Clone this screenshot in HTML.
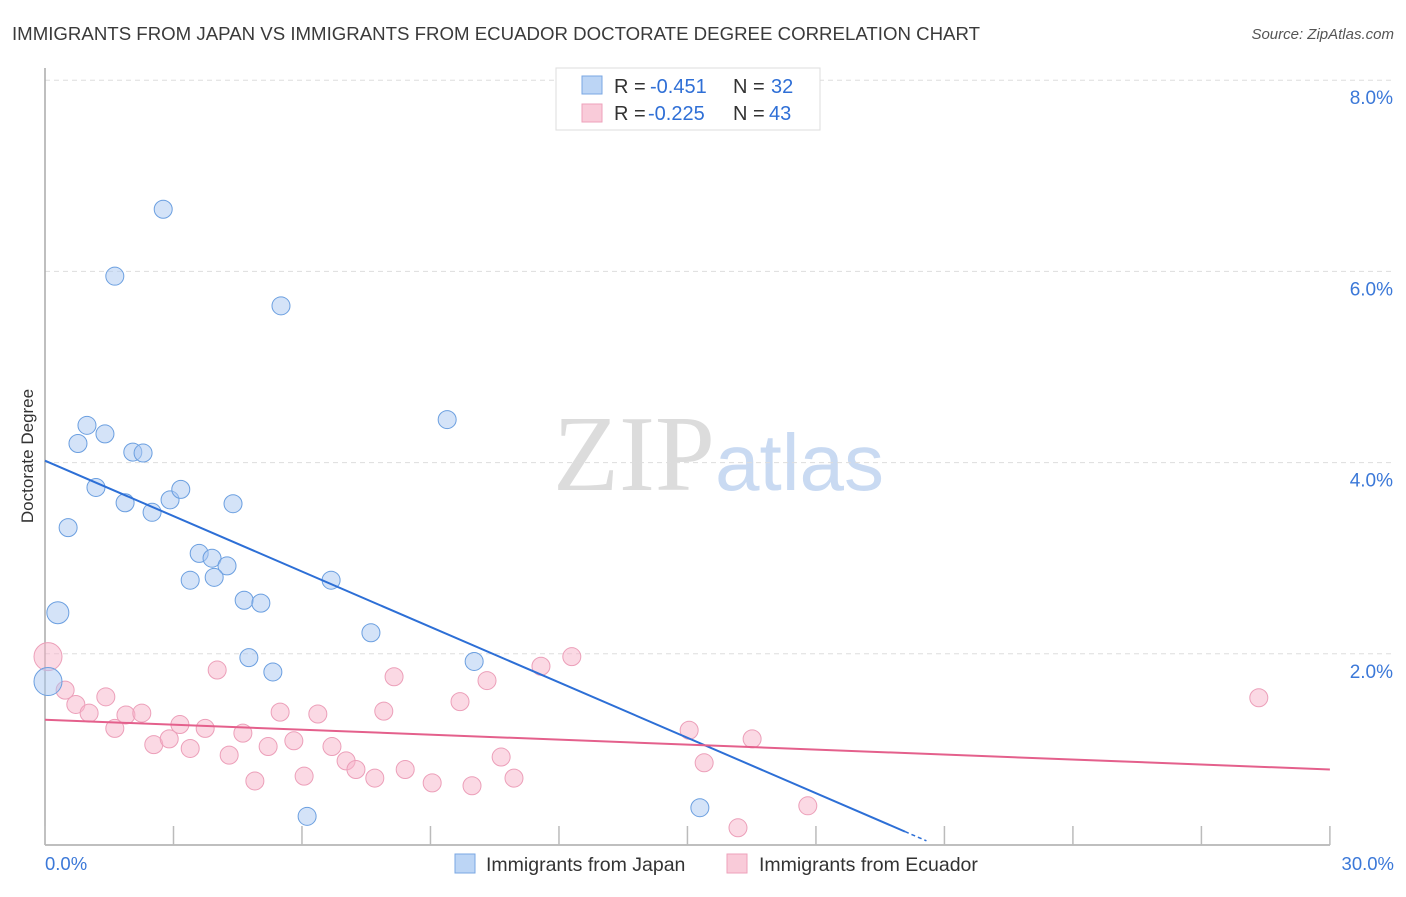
<!DOCTYPE html>
<html><head><meta charset="utf-8"><style>
body{margin:0;background:#fff;font-family:"Liberation Sans",sans-serif}
</style></head><body>
<svg id="chart" width="1406" height="892" xmlns="http://www.w3.org/2000/svg" font-family="Liberation Sans, sans-serif">
<text x="12" y="40" font-size="18.6" fill="#3a3a3a" textLength="968" lengthAdjust="spacingAndGlyphs">IMMIGRANTS FROM JAPAN VS IMMIGRANTS FROM ECUADOR DOCTORATE DEGREE CORRELATION CHART</text>
<text x="1394" y="39" font-size="15" fill="#555" font-style="italic" text-anchor="end">Source: ZipAtlas.com</text>
<text x="553" y="490" font-size="108" fill="#dcdcdc" font-family="Liberation Serif, serif">ZIP<tspan fill="#c9daf2" font-family="Liberation Sans, sans-serif" font-size="80">atlas</tspan></text>
<text transform="translate(33,456) rotate(-90)" font-size="17" fill="#333" text-anchor="middle">Doctorate Degree</text>
<g id="grid"></g><g id="pts"></g><g id="trend"></g>
<g>
<rect x="556" y="68" width="264" height="62" fill="#fff" stroke="#ddd"/>
<rect x="582" y="76" width="20" height="18" fill="#bcd5f5" stroke="#7aa7e3"/>
<rect x="582" y="104" width="20" height="18" fill="#f9cbd9" stroke="#eea2bb"/>
<text x="614" y="93" font-size="20" fill="#333">R = <tspan x="650" fill="#2f6fd6">-0.451</tspan><tspan x="733">N = </tspan><tspan x="771" fill="#2f6fd6">32</tspan></text>
<text x="614" y="120" font-size="20" fill="#333">R = <tspan x="648" fill="#2f6fd6">-0.225</tspan><tspan x="733">N = </tspan><tspan x="769" fill="#2f6fd6">43</tspan></text>
</g>
<g>
<rect x="455" y="854" width="20" height="19" fill="#bcd5f5" stroke="#7aa7e3"/>
<text x="486" y="871" font-size="19.5" fill="#333">Immigrants from Japan</text>
<rect x="727" y="854" width="20" height="19" fill="#f9cbd9" stroke="#eea2bb"/>
<text x="759" y="871" font-size="19.5" fill="#333">Immigrants from Ecuador</text>
</g>
</svg>
<script>
const xTicks=[0,3,6,9,12,15,18,21,24,27,30];
const yTicks=[2,4,6,8];
const japanX=[2.76,1.63,5.51,9.39,0.98,0.77,1.40,2.05,2.29,1.19,1.87,2.50,2.92,3.17,4.39,0.54,3.60,3.90,4.25,3.39,3.95,6.68,4.65,5.04,7.61,0.30,4.76,5.32,10.02,0.07,6.12,15.29];
const japanY=[6.65,5.95,5.64,4.45,4.39,4.20,4.30,4.11,4.10,3.74,3.58,3.48,3.61,3.72,3.57,3.32,3.05,3.00,2.92,2.77,2.80,2.77,2.56,2.53,2.22,2.43,1.96,1.81,1.92,1.71,0.30,0.39];
const ecuadorX=[0.07,0.47,0.72,1.03,1.42,1.63,1.89,2.26,2.54,2.90,3.15,3.39,3.74,4.02,4.30,4.62,4.90,5.21,5.49,5.81,6.05,6.37,6.70,7.03,7.26,7.70,7.91,8.15,8.41,9.04,9.69,9.97,10.32,10.65,10.95,11.58,12.30,15.04,15.39,16.18,16.51,17.81,28.34];
const ecuadorY=[1.97,1.62,1.47,1.38,1.55,1.22,1.36,1.38,1.05,1.11,1.26,1.01,1.22,1.83,0.94,1.17,0.67,1.03,1.39,1.09,0.72,1.37,1.03,0.88,0.79,0.70,1.40,1.76,0.79,0.65,1.50,0.62,1.72,0.92,0.70,1.87,1.97,1.20,0.86,0.18,1.11,0.41,1.54];
const japanTrend=[4.02,0.14,20.08];
const ecuadorTrend=[1.31,0.79];
const NS="http://www.w3.org/2000/svg";
const X=v=>45+v*42.83, Y=v=>845-v*95.6;
function mk(t,a,p){const e=document.createElementNS(NS,t);for(const k in a)e.setAttribute(k,a[k]);p.appendChild(e);return e;}
const g=document.getElementById('grid');
yTicks.forEach(t=>{
 const l=mk('line',{x1:45,x2:1393,y1:Y(t),y2:Y(t),stroke:'#ddd','stroke-dasharray':'5,4'},g);
 
 
 const tx=mk('text',{x:1393,y:Y(t)+24,'font-size':19,fill:'#3b78d8','text-anchor':'end'},g);
 tx.textContent=t.toFixed(1)+'%';
 
 
});
mk('line',{x1:45,x2:45,y1:68,y2:845,stroke:'#aaa','stroke-width':1.5},g);
mk('line',{x1:45,x2:1330,y1:845,y2:845,stroke:'#aaa','stroke-width':1.5},g);
xTicks.forEach(t=>{
 const l=mk('line',{x1:X(t),x2:X(t),y1:826,y2:845,stroke:'#bbb','stroke-width':1.5},g);
 
 
});
[[0,'0.0%','start',45],[30,'30.0%','end',1394]].forEach(([v,s,a,x])=>{
 const tx=mk('text',{x:x,y:870,'font-size':18.5,fill:'#3b78d8','text-anchor':a},g);
 tx.textContent=s;
 
 
});
const p=document.getElementById('pts');
ecuadorX.forEach((v,i)=>{
 const c=mk('circle',{cx:X(v),cy:Y(ecuadorY[i]),r:i==0?14:9,fill:'rgba(247,180,202,0.5)',stroke:'#ec9fb9','stroke-width':1},p);
 
 
});
japanX.forEach((v,i)=>{
 const big=(i==29)?14:(i==25?11:9);
 const c=mk('circle',{cx:X(v),cy:Y(japanY[i]),r:big,fill:'rgba(170,200,242,0.5)',stroke:'#6b9fe0','stroke-width':1},p);
 
 
});
const tr=document.getElementById('trend');
const jEnd=japanTrend[2], jSlope=(japanTrend[1]-japanTrend[0])/jEnd;
const l1=mk('line',{x1:X(0),y1:Y(japanTrend[0]),x2:X(jEnd),y2:Y(japanTrend[1]),stroke:'#2d6fd6','stroke-width':2},tr);


const l1b=mk('line',{x1:X(jEnd),y1:Y(japanTrend[1]),x2:X(jEnd+0.5),y2:Y(japanTrend[1]+jSlope*0.5),stroke:'#2d6fd6','stroke-width':1.5,'stroke-dasharray':'4,3'},tr);


const l2=mk('line',{x1:X(0),y1:Y(ecuadorTrend[0]),x2:X(30),y2:Y(ecuadorTrend[1]),stroke:'#e4608c','stroke-width':2},tr);


</script>
</body></html>
